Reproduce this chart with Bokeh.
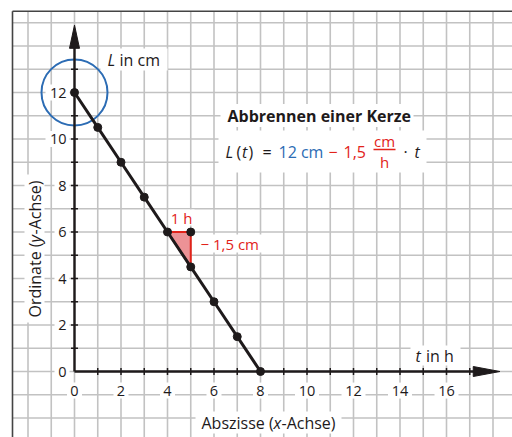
import math
from bokeh.plotting import figure
from bokeh.models import ColumnDataSource, Label, Range1d
from bokeh.core.properties import value
from bokeh.embed import file_html
from bokeh.resources import INLINE

# ---- data: burning candle, L(t) = 12 cm - 1.5 cm/h * t ----
t_hours = [0, 1, 2, 3, 4, 5, 6, 7, 8]
length_cm = [12, 10.5, 9, 7.5, 6, 4.5, 3, 1.5, 0]
slope_t = [4, 5, 5]          # slope triangle: one hour step ...
slope_L = [6, 6, 4.5]        # ... and 1.5 cm drop
start_t = [0]
start_L = [12]
x_tick_values = [0, 2, 4, 6, 8, 10, 12, 14, 16]
x_tick_labels = ["0", "2", "4", "6", "8", "10", "12", "14", "16"]
y_tick_values = [0, 2, 4, 6, 8, 10, 12]
y_tick_labels = ["0", "2", "4", "6", "8", "10", "12"]

# ---- page geometry ----
W, H = 512, 437
UNIT = 23.25            # pixels per grid square
OX, OY = 74, 371        # pixel position of the origin
X_LO, X_HI = -OX / UNIT, (W - OX) / UNIT
Y_LO, Y_HI = -(H - OY) / UNIT, OY / UNIT
FRAME_LEFT = (12 - OX) / UNIT
FRAME_TOP = (OY - 10.7) / UNIT
X_AXIS_END, Y_AXIS_END = 17.2, 13.95
X_ARROW_TIP, Y_ARROW_TIP = 18.3, 14.9
HEAD_HALF = 5 / UNIT
TICK_HALF = 3.5 / UNIT

FONT = "Open Sans"
INK = "#1e1a1b"
GRID = "#c2c2c2"
BLUE = "#2c6cb4"
RED = "#e2231a"
PINK = "#ec9296"


def px(d):
    return d / UNIT


p = figure(width=W, height=H, x_range=Range1d(X_LO, X_HI), y_range=Range1d(Y_LO, Y_HI),
           x_axis_type=None, y_axis_type=None, toolbar_location=None,
           output_backend="svg", min_border=0, outline_line_color=None,
           background_fill_color="white", border_fill_color="white")

# ---- squared paper ----
gx = list(range(-2, int(X_HI) + 1))
gy = list(range(-2, int(FRAME_TOP) + 1))
p.segment(x0=gx, y0=[Y_LO] * len(gx), x1=gx, y1=[FRAME_TOP] * len(gx),
          line_color=GRID, line_width=1.6)
p.segment(x0=[FRAME_LEFT] * len(gy), y0=gy, x1=[X_HI] * len(gy), y1=gy,
          line_color=GRID, line_width=1.6)

# ---- white boxes behind texts ----
boxes = dict(left=[], right=[], bottom=[], top=[])


def knock(ax, ay, left, right, down, up):
    boxes["left"].append(ax + px(left))
    boxes["right"].append(ax + px(right))
    boxes["bottom"].append(ay - px(down))
    boxes["top"].append(ay + px(up))


X_LABEL_Y = -0.82
Y_LABEL_X = -0.344
for v, s in zip(x_tick_values, x_tick_labels):
    hw = len(s) * 4.5 + 3
    knock(v, X_LABEL_Y, -hw, hw, 8, 8)
for v, s in zip(y_tick_values, y_tick_labels):
    knock(Y_LABEL_X, v, -(len(s) * 9 + 3), 3, 8, 8)

# frame border (top and left)
p.segment(x0=[FRAME_LEFT, FRAME_LEFT], y0=[FRAME_TOP, Y_LO], x1=[X_HI, FRAME_LEFT],
          y1=[FRAME_TOP, FRAME_TOP], line_color="#444444", line_width=1.6)

# ---- text pieces ----
labels = []


def put(x, y, text, size=16, color=INK, style="normal", align="left",
        dx=0, dy=0, angle=0):
    labels.append(Label(x=x, y=y, x_offset=dx, y_offset=dy, text=text,
                        text_font=FONT, text_font_size=f"{size}px",
                        text_font_style=style, text_color=color,
                        text_align=align, text_baseline="middle", angle=angle))


# axis captions
L_LAB = (px(107 - OX), px(OY - 59))
put(*L_LAB, "L", style="italic")
put(*L_LAB, "in cm", dx=12)
knock(*L_LAB, -7, 60, 11, 11)

T_LAB = (px(415 - OX), px(OY - 355))
put(*T_LAB, "t", style="italic")
put(*T_LAB, "in h", dx=10.5)
knock(*T_LAB, -5, 45, 10, 10)

ABS = (px(201 - OX), px(OY - 422))
put(*ABS, "Abszisse (")
put(*ABS, "x", style="italic", dx=72)
put(*ABS, "-Achse)", dx=80)
knock(*ABS, -6, 140, 11, 11)

ORD = (px(34 - OX), px(OY - 317))
put(*ORD, "Ordinate (", angle=math.pi / 2)
put(*ORD, "y", style="italic", angle=math.pi / 2, dy=75)
put(*ORD, "-Achse)", angle=math.pi / 2, dy=83)
knock(ORD[0], ORD[1], -10, 10, 5, 143)

# title and formula
TITLE = (px(227 - OX), px(OY - 115))
put(*TITLE, "Abbrennen einer Kerze", style="bold")
knock(*TITLE, -7, 186, 11.5, 11.5)

F = (px(225 - OX), px(OY - 151))
put(*F, "L", style="italic")
put(*F, "(", dx=11)
put(*F, "t", style="italic", dx=16.5)
put(*F, ")", dx=23)
put(*F, "=", dx=37)
put(*F, "12 cm", color=BLUE, dx=53)
put(*F, "\u2212", color=RED, dx=103)
put(*F, "1,5", color=RED, dx=118)
put(*F, "cm", size=15, color=RED, align="center", dx=159, dy=11)
put(*F, "h", size=15, color=RED, align="center", dx=159, dy=-10)
put(*F, "\u00b7", align="center", dx=180)
put(*F, "t", style="italic", dx=189)
knock(*F, -7, 201, 21, 21)

# slope triangle captions
put(px(181 - OX), px(OY - 217), "1 h", size=15, color=RED, align="center")
knock(px(181 - OX), px(OY - 217), -13, 13, 8, 8)
M = (px(200 - OX), px(OY - 243))
put(*M, "\u2212 1,5 cm", size=15, color=RED)
knock(*M, -4, 62, 9, 9)

p.quad(left="left", right="right", bottom="bottom", top="top",
       source=ColumnDataSource(boxes), fill_color="white", line_color=None)

# tick labels
p.text(x=x_tick_values, y=[X_LABEL_Y] * len(x_tick_values), text=x_tick_labels,
       text_font=value(FONT), text_font_size="14.5px", text_color=INK,
       text_align="center", text_baseline="middle")
p.text(x=[Y_LABEL_X] * len(y_tick_values), y=y_tick_values, text=y_tick_labels,
       text_font=value(FONT), text_font_size="14.5px", text_color=INK,
       text_align="right", text_baseline="middle")

# fraction bar of cm/h
p.segment(x0=[F[0] + px(148)], y0=[F[1] + px(2)], x1=[F[0] + px(170)], y1=[F[1] + px(2)],
          line_color=RED, line_width=1.5)

# blue circle around the starting length
p.circle(x=start_t, y=start_L, radius=px(33), fill_color=None,
         line_color=BLUE, line_width=2)

# ---- axes with arrows and ticks ----
p.segment(x0=[0, 0], y0=[0, 0], x1=[X_AXIS_END, 0], y1=[0, Y_AXIS_END],
          line_color=INK, line_width=2.4)
p.patch(x=[X_ARROW_TIP, X_AXIS_END - 0.05, X_AXIS_END - 0.05],
        y=[0, HEAD_HALF, -HEAD_HALF], fill_color=INK, line_color=INK)
p.patch(x=[0, HEAD_HALF, -HEAD_HALF],
        y=[Y_ARROW_TIP, Y_AXIS_END - 0.05, Y_AXIS_END - 0.05], fill_color=INK, line_color=INK)
xt = list(range(1, 18))
yt = list(range(1, 14))
p.segment(x0=xt, y0=[-TICK_HALF] * len(xt), x1=xt, y1=[TICK_HALF] * len(xt),
          line_color=INK, line_width=1.5)
p.segment(x0=[-TICK_HALF] * len(yt), y0=yt, x1=[TICK_HALF] * len(yt), y1=yt,
          line_color=INK, line_width=1.5)

# ---- slope triangle, graph and points ----
p.patch(x=slope_t, y=slope_L, fill_color=PINK, line_color=RED, line_width=2,
        line_join="round")
p.line(x=t_hours, y=length_cm, line_color=INK, line_width=3)
p.scatter(x=t_hours, y=length_cm, size=8, fill_color=INK, line_color=INK)
p.scatter(x=slope_t[1:2], y=slope_L[1:2], size=8, fill_color=INK, line_color=INK)

for lab in labels:
    p.add_layout(lab)

with open("out.html", "w") as f:
    f.write(file_html(p, INLINE))
